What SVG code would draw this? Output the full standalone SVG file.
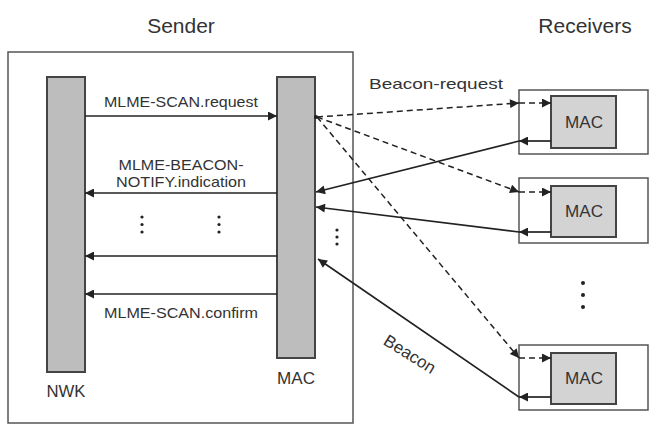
<svg xmlns="http://www.w3.org/2000/svg" width="657" height="433" viewBox="0 0 657 433">
<style>
text{font-family:"Liberation Sans","Noto Sans",Arial,sans-serif;fill:#333}
.hdr{font-size:21px}
.lbl{font-size:15px}
.big{font-size:17px}
.box{fill:#fff;stroke:#555;stroke-width:1.5}
.bar{fill:#bdbdbd;stroke:#444;stroke-width:2}
.mac{fill:#d3d3d3;stroke:#444;stroke-width:2}
.ln{fill:none;stroke:#222;stroke-width:1.7}
.dash{fill:none;stroke:#222;stroke-width:1.5;stroke-dasharray:6 4}
.dot{fill:#222}
</style>
<defs>
<marker id="ah" viewBox="0 0 10 10" refX="10" refY="5" markerWidth="11" markerHeight="9" markerUnits="userSpaceOnUse" orient="auto"><path d="M0,0 L10,5 L0,10 z" fill="#222"/></marker>
</defs>
<rect width="657" height="433" fill="#fff"/>
<text class="hdr" x="181" y="33" text-anchor="middle">Sender</text>
<text class="hdr" x="585" y="33" text-anchor="middle">Receivers</text>
<g id="sender"><rect class="box" x="8" y="52" width="345" height="371"/></g>
<g id="nwk"><rect class="bar" x="47" y="77" width="38" height="295"/><text class="big" x="66" y="397" text-anchor="middle" textLength="39" lengthAdjust="spacingAndGlyphs">NWK</text></g>
<g id="mac"><rect class="bar" x="277" y="77" width="38" height="281"/><text class="big" x="296" y="384" text-anchor="middle" textLength="38" lengthAdjust="spacingAndGlyphs">MAC</text></g>
<g id="recv1"><rect class="box" x="519" y="90" width="129" height="64"/><rect class="mac" x="551" y="96" width="65" height="52"/><text class="big" x="584" y="128" text-anchor="middle" textLength="38" lengthAdjust="spacingAndGlyphs">MAC</text></g>
<g id="recv2"><rect class="box" x="519" y="178" width="129" height="65"/><rect class="mac" x="551" y="186" width="65" height="51"/><text class="big" x="584" y="217" text-anchor="middle" textLength="38" lengthAdjust="spacingAndGlyphs">MAC</text></g>
<g id="recv3"><rect class="box" x="519" y="345" width="129" height="65"/><rect class="mac" x="551" y="353" width="65" height="51"/><text class="big" x="584" y="384" text-anchor="middle" textLength="38" lengthAdjust="spacingAndGlyphs">MAC</text></g>
<g id="connectors">
<path class="ln" d="M85,116 H277" marker-end="url(#ah)"/>
<path class="ln" d="M277,193 H85" marker-end="url(#ah)"/>
<path class="ln" d="M277,256 H85" marker-end="url(#ah)"/>
<path class="ln" d="M277,294 H85" marker-end="url(#ah)"/>
<path class="dash" d="M317,117 L519,103" marker-end="url(#ah)"/>
<path class="dash" d="M519,103 H551" marker-end="url(#ah)"/>
<path class="dash" d="M317,117 L519,192" marker-end="url(#ah)"/>
<path class="dash" d="M519,192 H551" marker-end="url(#ah)"/>
<path class="dash" d="M317,117 L519,358" marker-end="url(#ah)"/>
<path class="dash" d="M519,358 H551" marker-end="url(#ah)"/>
<circle class="dot" cx="316" cy="117" r="2"/>
<path class="ln" d="M551,141 H519" marker-end="url(#ah)"/>
<path class="ln" d="M519,141 L316,192" marker-end="url(#ah)"/>
<path class="ln" d="M551,232 H519" marker-end="url(#ah)"/>
<path class="ln" d="M519,232 L316,207" marker-end="url(#ah)"/>
<path class="ln" d="M551,397 H519" marker-end="url(#ah)"/>
<path class="ln" d="M519,397 L318,259" marker-end="url(#ah)"/>
</g>
<g id="labels">
<text class="lbl" x="181" y="107" text-anchor="middle" textLength="154" lengthAdjust="spacingAndGlyphs">MLME-SCAN.request</text>
<text class="lbl" x="181" y="170" text-anchor="middle" textLength="125" lengthAdjust="spacingAndGlyphs">MLME-BEACON-</text>
<text class="lbl" x="181" y="187" text-anchor="middle" textLength="130" lengthAdjust="spacingAndGlyphs">NOTIFY.indication</text>
<text class="lbl" x="181" y="318" text-anchor="middle" textLength="154" lengthAdjust="spacingAndGlyphs">MLME-SCAN.confirm</text>
<text class="lbl" x="436" y="89" text-anchor="middle" textLength="134" lengthAdjust="spacingAndGlyphs">Beacon-request</text>
<text class="big" x="410" y="360" text-anchor="middle" transform="rotate(32 410 354)">Beacon</text>
</g>
<g id="dots">
<circle class="dot" cx="142" cy="217" r="1.6"/><circle class="dot" cx="142" cy="224.5" r="1.6"/><circle class="dot" cx="142" cy="232" r="1.6"/>
<circle class="dot" cx="219" cy="217" r="1.6"/><circle class="dot" cx="219" cy="224.5" r="1.6"/><circle class="dot" cx="219" cy="232" r="1.6"/>
<circle class="dot" cx="337" cy="230" r="1.6"/><circle class="dot" cx="337" cy="237" r="1.6"/><circle class="dot" cx="337" cy="244" r="1.6"/>
<circle class="dot" cx="583" cy="283" r="2"/><circle class="dot" cx="583" cy="295" r="2"/><circle class="dot" cx="583" cy="307" r="2"/>
</g>
</svg>
